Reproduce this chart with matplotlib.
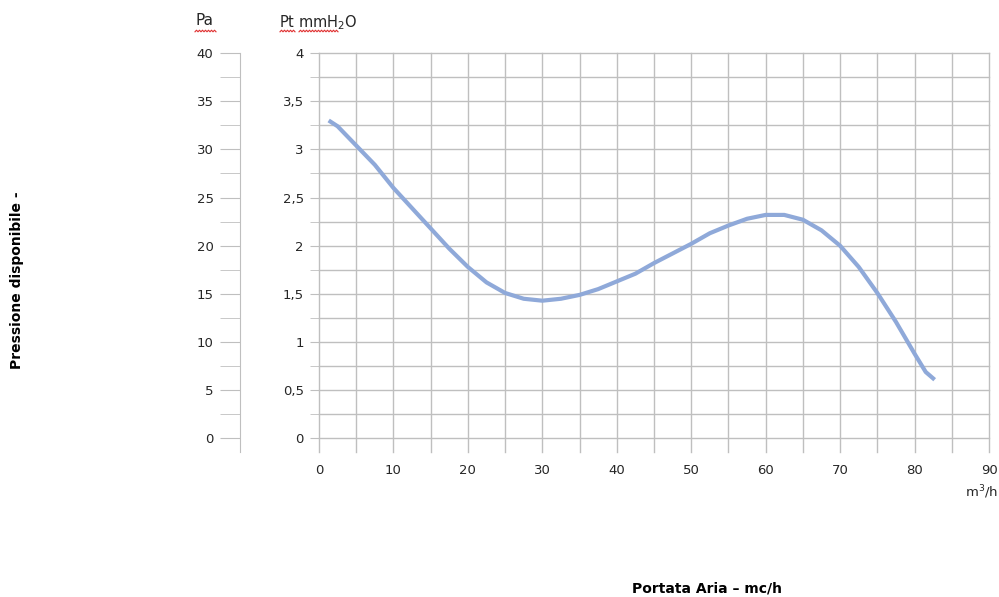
import numpy as np
import matplotlib.pyplot as plt

# dati
portata = [1.3, 2.5, 5, 7.5, 10, 12.5, 15, 17.5, 20, 22.5, 25, 27.5, 30, 32.5, 35, 37.5,
           40, 42.5, 45, 47.5, 50, 52.5, 55, 57.5, 60, 62.5, 65, 67.5, 70, 72.5, 75,
           77.5, 80, 81.5, 82.7]
pressione = [3.30, 3.24, 3.04, 2.84, 2.60, 2.39, 2.18, 1.97, 1.78, 1.62, 1.51, 1.45, 1.43,
             1.45, 1.49, 1.55, 1.63, 1.71, 1.82, 1.92, 2.02, 2.13, 2.21, 2.28, 2.32, 2.32,
             2.27, 2.16, 2.00, 1.78, 1.51, 1.21, 0.88, 0.69, 0.61]
x_ticks = [0, 10, 20, 30, 40, 50, 60, 70, 80, 90]
y_ticks = [0, 0.5, 1, 1.5, 2, 2.5, 3, 3.5, 4]
y_labels = ['0', '0,5', '1', '1,5', '2', '2,5', '3', '3,5', '4']
pa_ticks = [0, 5, 10, 15, 20, 25, 30, 35, 40]

grigio = '#BFBFBF'
testo = '#262626'

fig = plt.figure(figsize=(9.99, 5.97), dpi=100)

# grafico principale (mmH2O)
ax = fig.add_axes([0.3193, 0.2429, 0.6707, 0.6683])
ax.plot(portata, pressione, color='#8FA9D9', linewidth=3.0, solid_capstyle='butt',
        solid_joinstyle='round')
ax.set_xlim(0, 90)
ax.set_ylim(-0.14, 4)
ax.set_xticks(x_ticks)
ax.set_xticks(np.arange(0, 91, 5), minor=True)
ax.set_yticks(y_ticks)
ax.set_yticklabels(y_labels)
ax.set_yticks(np.arange(0, 4.01, 0.25), minor=True)
ax.grid(which='both', color=grigio, linewidth=1, clip_on=False)
ax.set_axisbelow(True)
for s in ax.spines.values():
    s.set_visible(False)
ax.tick_params(axis='y', which='both', length=6.5, color=grigio, pad=4.5,
               labelsize=9.5, labelcolor=testo)
ax.tick_params(axis='x', which='both', length=0, pad=9, labelsize=9.5, labelcolor=testo)

# asse secondario in Pa
ax2 = fig.add_axes([0.2402, 0.2429, 0.001, 0.6683])
ax2.set_ylim(-1.4, 40)
ax2.set_yticks(pa_ticks)
ax2.set_yticks(np.arange(0, 40.1, 2.5), minor=True)
ax2.set_xticks([])
for k in ['top', 'right', 'bottom']:
    ax2.spines[k].set_visible(False)
ax2.spines['left'].set_color(grigio)
ax2.patch.set_visible(False)
ax2.tick_params(axis='y', which='both', length=14.5, color=grigio, pad=4.5,
                labelsize=9.5, labelcolor=testo)

fig.text(0.2045, 0.966, 'Pa', fontsize=11, color=testo, ha='center', va='center')
fig.text(0.279, 0.962, 'Pt mmH$_2$O', fontsize=10.5, color=testo, ha='left', va='center')
fig.text(0.999, 0.176, 'm$^3$/h', fontsize=9.5, color=testo, ha='right', va='center')

# sottolineatura ondulata rossa (correttore ortografico)
def ondina(x0, x1, y):
    xs = np.arange(x0, x1 + 0.1, 1.5)
    ys = y + np.where(np.arange(len(xs)) % 2 == 0, 0.8, -0.8)
    fig.add_artist(plt.Line2D(xs / 999, 1 - ys / 597, color='#E03030', linewidth=0.8))

ondina(195, 216, 31)
ondina(280, 296, 31)
ondina(299, 339, 31)

fig.text(0.017, 0.53, 'Pressione disponibile -', fontsize=10, fontweight='bold',
         rotation=90, ha='center', va='center')
fig.text(0.708, 0.015, 'Portata Aria \u2013 mc/h', fontsize=10, fontweight='bold',
         ha='center', va='center')

fig.savefig('out.png', dpi=100)
